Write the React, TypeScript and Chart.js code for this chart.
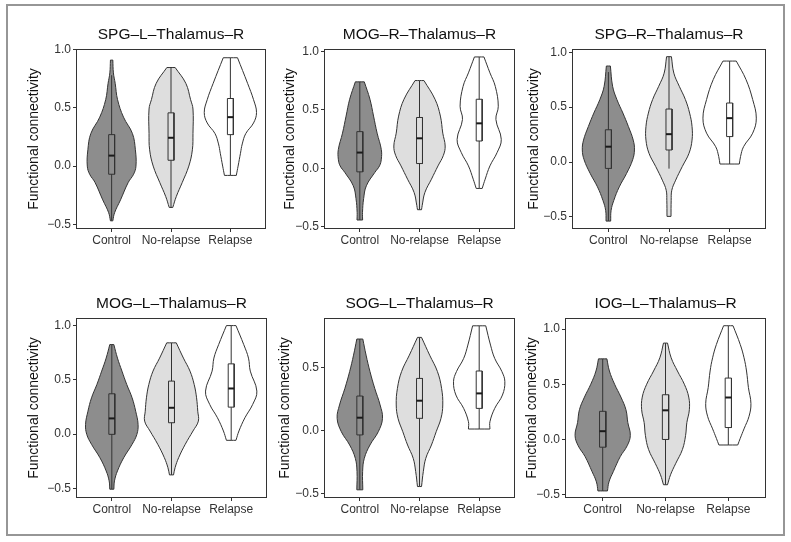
import React, { useEffect, useRef } from 'react';
import { Chart, registerables } from 'chart.js';

Chart.register(...registerables);

// ---------------- data ----------------
const CATEGORIES = ['Control', 'No-relapse', 'Relapse'];
const TITLES = [
  'SPG–L–Thalamus–R',
  'MOG–R–Thalamus–R',
  'SPG–R–Thalamus–R',
  'MOG–L–Thalamus–R',
  'SOG–L–Thalamus–R',
  'IOG–L–Thalamus–R',
];
const Y_MIN = [-0.54, -0.52, -0.61, -0.59, -0.535, -0.53];
const Y_MAX = [1.005, 1.02, 1.03, 1.07, 0.895, 1.1];
const Y_TICKS = [
  [-0.5, 0, 0.5, 1],
  [-0.5, 0, 0.5, 1],
  [-0.5, 0, 0.5, 1],
  [-0.5, 0, 0.5, 1],
  [-0.5, 0, 0.5],
  [-0.5, 0, 0.5, 1],
];

// violin outlines: connectivity levels and half-widths (in category units); boxes: [low, q1, median, q3, high]
const p1Levels = [
  [0.91, 0.8, 0.71, 0.57, 0.42, 0.28, 0.14, 0.0, -0.07, -0.14, -0.29, -0.4, -0.47],
  [0.846, 0.71, 0.57, 0.49, 0.28, 0.14, 0.0, -0.14, -0.26, -0.355],
  [0.93, 0.71, 0.57, 0.46, 0.37, 0.28, 0.19, 0.11, 0.0, -0.08],
];
const p1Widths = [
  [0.02, 0.03, 0.06, 0.1, 0.2, 0.35, 0.4, 0.41, 0.37, 0.28, 0.15, 0.05, 0.02],
  [0.07, 0.25, 0.33, 0.37, 0.37, 0.36, 0.3, 0.19, 0.09, 0.03],
  [0.12, 0.29, 0.39, 0.44, 0.39, 0.26, 0.2, 0.17, 0.13, 0.1],
];
const p1Boxes = [
  [-0.47, -0.07, 0.09, 0.27, 0.78],
  [-0.355, 0.05, 0.243, 0.457, 0.846],
  [-0.08, 0.27, 0.42, 0.58, 0.93],
];

const p2Levels = [
  [0.739, 0.59, 0.446, 0.3, 0.16, 0.077, 0.02, -0.037, -0.15, -0.26, -0.378, -0.443],
  [0.75, 0.59, 0.446, 0.3, 0.19, 0.11, 0.02, -0.094, -0.208, -0.32, -0.355],
  [0.952, 0.816, 0.7, 0.53, 0.417, 0.247, 0.134, 0.02, -0.094, -0.173],
];
const p2Widths = [
  [0.075, 0.17, 0.23, 0.29, 0.36, 0.36, 0.33, 0.25, 0.11, 0.064, 0.045, 0.047],
  [0.075, 0.26, 0.35, 0.39, 0.43, 0.4, 0.31, 0.2, 0.09, 0.045, 0.034],
  [0.08, 0.18, 0.27, 0.32, 0.28, 0.37, 0.3, 0.18, 0.1, 0.05],
];
const p2Boxes = [
  [-0.443, -0.031, 0.134, 0.313, 0.739],
  [-0.355, 0.04, 0.256, 0.434, 0.75],
  [-0.173, 0.233, 0.384, 0.59, 0.952],
];

const p3Levels = [
  [0.875, 0.69, 0.57, 0.446, 0.324, 0.2, 0.11, 0.02, -0.104, -0.226, -0.349, -0.44, -0.538],
  [0.96, 0.81, 0.69, 0.57, 0.446, 0.324, 0.2, 0.08, -0.04, -0.165, -0.257, -0.349, -0.495],
  [0.92, 0.752, 0.57, 0.4, 0.263, 0.14, 0.05, -0.018],
];
const p3Widths = [
  [0.033, 0.07, 0.14, 0.24, 0.33, 0.41, 0.43, 0.4, 0.3, 0.18, 0.09, 0.045, 0.038],
  [0.04, 0.08, 0.17, 0.27, 0.34, 0.38, 0.38, 0.33, 0.22, 0.11, 0.046, 0.036, 0.033],
  [0.11, 0.27, 0.38, 0.44, 0.38, 0.23, 0.18, 0.16],
];
const p3Boxes = [
  [-0.538, -0.058, 0.14, 0.294, 0.82],
  [-0.06, 0.11, 0.254, 0.483, 0.96],
  [-0.018, 0.232, 0.4, 0.538, 0.92],
];

const p4Levels = [
  [0.825, 0.7, 0.58, 0.457, 0.334, 0.21, 0.089, -0.003, -0.095, -0.218, -0.34, -0.432, -0.509],
  [0.841, 0.7, 0.58, 0.457, 0.334, 0.21, 0.119, 0.028, -0.095, -0.218, -0.31, -0.377],
  [1.0, 0.825, 0.7, 0.58, 0.396, 0.273, 0.15, 0.028, -0.058],
];
const p4Widths = [
  [0.034, 0.095, 0.17, 0.25, 0.34, 0.4, 0.44, 0.42, 0.34, 0.2, 0.095, 0.045, 0.034],
  [0.08, 0.2, 0.31, 0.38, 0.42, 0.44, 0.45, 0.36, 0.23, 0.12, 0.06, 0.034],
  [0.08, 0.21, 0.29, 0.32, 0.43, 0.36, 0.23, 0.13, 0.08],
];
const p4Boxes = [
  [-0.509, -0.003, 0.144, 0.371, 0.825],
  [-0.377, 0.104, 0.242, 0.488, 0.841],
  [-0.058, 0.248, 0.42, 0.647, 1.0],
];

const p5Levels = [
  [0.728, 0.6, 0.47, 0.336, 0.204, 0.098, -0.008, -0.114, -0.22, -0.325, -0.47],
  [0.741, 0.6, 0.47, 0.336, 0.204, 0.098, -0.008, -0.114, -0.22, -0.325, -0.444],
  [0.833, 0.68, 0.574, 0.47, 0.389, 0.283, 0.177, 0.071, 0.013],
];
const p5Widths = [
  [0.05, 0.105, 0.17, 0.25, 0.34, 0.38, 0.31, 0.17, 0.075, 0.047, 0.05],
  [0.034, 0.17, 0.3, 0.37, 0.39, 0.36, 0.28, 0.2, 0.105, 0.064, 0.034],
  [0.11, 0.19, 0.26, 0.38, 0.43, 0.39, 0.26, 0.18, 0.18],
];
const p5Boxes = [
  [-0.47, -0.034, 0.103, 0.275, 0.728],
  [-0.444, 0.098, 0.238, 0.415, 0.741],
  [0.013, 0.177, 0.296, 0.474, 0.833],
];

const p6Levels = [
  [0.73, 0.62, 0.5, 0.384, 0.27, 0.153, 0.037, -0.057, -0.155, -0.29, -0.384, -0.466],
  [0.873, 0.74, 0.62, 0.5, 0.384, 0.27, 0.153, 0.037, -0.09, -0.22, -0.32, -0.41],
  [1.03, 0.86, 0.74, 0.62, 0.47, 0.325, 0.21, 0.096, 0.01, -0.05],
];
const p6Widths = [
  [0.067, 0.107, 0.19, 0.29, 0.37, 0.4, 0.44, 0.39, 0.28, 0.17, 0.1, 0.076],
  [0.032, 0.09, 0.19, 0.3, 0.37, 0.38, 0.34, 0.32, 0.27, 0.16, 0.08, 0.032],
  [0.075, 0.19, 0.25, 0.29, 0.32, 0.36, 0.33, 0.25, 0.19, 0.15],
];
const p6Boxes = [
  [-0.466, -0.07, 0.075, 0.255, 0.73],
  [-0.41, 0.0, 0.264, 0.405, 0.873],
  [-0.05, 0.108, 0.38, 0.556, 1.03],
];

const LEVELS = [p1Levels, p2Levels, p3Levels, p4Levels, p5Levels, p6Levels];
const WIDTHS = [p1Widths, p2Widths, p3Widths, p4Widths, p5Widths, p6Widths];
const BOXES = [p1Boxes, p2Boxes, p3Boxes, p4Boxes, p5Boxes, p6Boxes];

// ---------------- layout & style ----------------
// plot panel rectangles in page pixels: [left, top, right, bottom]
const PLOT_RECTS = [
  [76, 49, 266, 229],
  [324, 49, 515, 229],
  [572, 49, 766, 229],
  [76, 318, 267, 498],
  [324, 318, 515, 498],
  [565, 318, 766, 498],
];
const YTITLE_PAD = [10, 18, 14, 10, 13, 19];
const AXIS_W = 60;
const TITLE_H = 25;
const XAXIS_H = 28;
const RIGHT_PAD = 3;
const FILLS = ['#8d8d8d', '#dedede', '#ffffff'];
const LINE = '#333333';
const TEXT = '#333333';
const BOX_HALF = 0.05;
const FONT = "'Liberation Sans', Arial, Helvetica, sans-serif";

function violinPoints(levels: number[], widths: number[], c: number) {
  const pairs = levels.map((y, i) => ({ y, w: widths[i] })).sort((a, b) => a.y - b.y);
  const left = pairs.map((p) => ({ x: c - p.w, y: p.y }));
  const right = pairs.slice().reverse().map((p) => ({ x: c + p.w, y: p.y }));
  const n = pairs.length;
  return [...left, left[n - 1], right[0], ...right, right[n - 1], left[0]];
}

const panelBorder = {
  id: 'panelBorder',
  afterDatasetsDraw(chart: any) {
    const { ctx, chartArea: a } = chart;
    ctx.save();
    ctx.strokeStyle = LINE;
    ctx.lineWidth = 1;
    ctx.strokeRect(
      Math.round(a.left) + 0.5,
      Math.round(a.top) + 0.5,
      Math.round(a.right - a.left) - 1,
      Math.round(a.bottom - a.top) - 1
    );
    ctx.restore();
  },
};

function buildDatasets(p: number) {
  const ds: any[] = [];
  CATEGORIES.forEach((_, g) => {
    const c = g + 1;
    const [lo, q1, med, q3, hi] = BOXES[p][g];
    ds.push({
      type: 'line',
      data: violinPoints(LEVELS[p][g], WIDTHS[p][g], c),
      borderColor: LINE,
      borderWidth: 1,
      backgroundColor: FILLS[g],
      fill: 'shape',
      tension: 0.4,
      pointRadius: 0,
      order: 4,
    });
    ds.push({
      type: 'line',
      data: [
        { x: c, y: lo },
        { x: c, y: hi },
      ],
      borderColor: LINE,
      borderWidth: 1,
      fill: false,
      tension: 0,
      pointRadius: 0,
      order: 3,
    });
    ds.push({
      type: 'line',
      data: [
        { x: c - BOX_HALF, y: q1 },
        { x: c - BOX_HALF, y: q3 },
        { x: c + BOX_HALF, y: q3 },
        { x: c + BOX_HALF, y: q1 },
        { x: c - BOX_HALF, y: q1 },
      ],
      borderColor: LINE,
      borderWidth: 1,
      backgroundColor: FILLS[g],
      fill: 'shape',
      tension: 0,
      pointRadius: 0,
      order: 2,
    });
    ds.push({
      type: 'line',
      data: [
        { x: c - BOX_HALF, y: med },
        { x: c + BOX_HALF, y: med },
      ],
      borderColor: '#1a1a1a',
      borderWidth: 2,
      fill: false,
      tension: 0,
      pointRadius: 0,
      order: 1,
    });
  });
  return ds;
}

function formatTick(v: number) {
  const s = Math.abs(v).toFixed(1);
  return v < -1e-9 ? '\u2212' + s : s;
}

function Panel({ p }: { p: number }) {
  const ref = useRef<HTMLCanvasElement>(null);
  const [L, T, R, B] = PLOT_RECTS[p];
  const w = R - L + AXIS_W + RIGHT_PAD;
  const h = B - T + TITLE_H + XAXIS_H;

  useEffect(() => {
    const chart = new Chart(ref.current as HTMLCanvasElement, {
      type: 'line',
      data: { datasets: buildDatasets(p) },
      options: {
        responsive: false,
        animation: false,
        events: [],
        devicePixelRatio: 1,
        layout: { padding: { left: 0, top: 0, right: RIGHT_PAD, bottom: 0 } },
        plugins: {
          legend: { display: false },
          tooltip: { enabled: false },
          title: {
            display: true,
            text: TITLES[p],
            fullSize: false,
            color: '#111111',
            font: { family: FONT, size: 15.5, weight: 'normal', lineHeight: '19px' },
            padding: { top: 1, bottom: 5 },
          },
        },
        scales: {
          x: {
            type: 'linear',
            min: 0.4,
            max: 3.6,
            offset: false,
            afterBuildTicks: (scale: any) => {
              scale.ticks = CATEGORIES.map((_, i) => ({ value: i + 1 }));
            },
            afterFit: (scale: any) => {
              scale.height = XAXIS_H;
            },
            ticks: {
              callback: (v: any) => CATEGORIES[Math.round(Number(v)) - 1] ?? '',
              color: TEXT,
              font: { family: FONT, size: 12 },
              padding: 1,
              maxRotation: 0,
              autoSkip: false,
            },
            grid: {
              display: true,
              drawOnChartArea: false,
              drawTicks: true,
              tickLength: 3,
              color: LINE,
              offset: false,
            },
            border: { display: false },
          },
          y: {
            type: 'linear',
            min: Y_MIN[p],
            max: Y_MAX[p],
            afterBuildTicks: (scale: any) => {
              scale.ticks = Y_TICKS[p].map((v) => ({ value: v }));
            },
            afterFit: (scale: any) => {
              scale.width = AXIS_W;
            },
            ticks: {
              callback: (v: any) => formatTick(Number(v)),
              color: TEXT,
              font: { family: FONT, size: 12 },
              padding: 2,
            },
            grid: {
              display: true,
              drawOnChartArea: false,
              drawTicks: true,
              tickLength: 3,
              color: LINE,
            },
            border: { display: false },
            title: {
              display: true,
              text: 'Functional connectivity',
              color: '#111111',
              font: { family: FONT, size: 14, lineHeight: 1.2 },
              padding: { top: YTITLE_PAD[p], bottom: 0 },
            },
          },
        },
      } as any,
      plugins: [panelBorder],
    });
    return () => chart.destroy();
  }, [p]);

  return (
    <canvas
      ref={ref}
      width={w}
      height={h}
      style={{ position: 'absolute', left: L - AXIS_W, top: T - TITLE_H, width: w, height: h }}
    />
  );
}

export default function App() {
  return (
    <div
      style={{
        position: 'absolute',
        left: 0,
        top: 0,
        width: 791,
        height: 542,
        background: '#ffffff',
        overflow: 'hidden',
      }}
    >
      <div
        style={{
          position: 'absolute',
          left: 6,
          top: 4,
          width: 779,
          height: 532,
          boxSizing: 'border-box',
          border: '2px solid #969696',
        }}
      />
      {TITLES.map((_, p) => (
        <Panel key={p} p={p} />
      ))}
    </div>
  );
}
